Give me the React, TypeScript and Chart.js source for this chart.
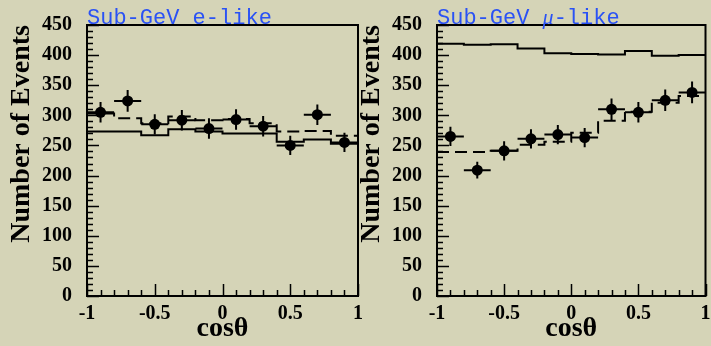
import React, { useEffect, useRef } from "react";
import { Chart, registerables } from "chart.js";

Chart.register(...registerables);

// ---- data ----
const BIN_EDGES = [-1, -0.8, -0.6, -0.4, -0.2, 0, 0.2, 0.4, 0.6, 0.8, 1];
const BIN_CENTERS = [-0.9, -0.7, -0.5, -0.3, -0.1, 0.1, 0.3, 0.5, 0.7, 0.9];
const HALF_BIN = 0.1;

const E_DATA = [305, 324, 285, 292, 278, 293, 282, 250, 301, 255];
const E_ERR = [17, 18, 17, 17, 17, 17, 17, 16, 17, 16];
const E_NO_OSC = [273, 273, 267, 277, 273, 270, 270, 256, 260, 253];
const E_OSC = [303, 295, 287, 298, 292, 294, 287, 273, 274, 266];

const MU_DATA = [265, 209, 241, 261, 268, 263, 310, 305, 325, 338];
const MU_ERR = [16, 14, 16, 16, 16, 16, 18, 17, 18, 18];
const MU_NO_OSC = [419, 417, 418, 411, 403, 402, 401, 407, 399, 400];
const MU_OSC = [239, 239, 241, 251, 256, 271, 291, 306, 321, 332];

const X_TICKS = [-1, -0.5, 0, 0.5, 1];
const X_TICK_LABELS = ["-1", "-0.5", "0", "0.5", "1"];
const Y_TICKS = [0, 50, 100, 150, 200, 250, 300, 350, 400, 450];
const Y_TICK_LABELS = ["0", "50", "100", "150", "200", "250", "300", "350", "400", "450"];

const X_TITLE = "cosθ";
const Y_TITLE = "Number of Events";
const E_TITLE = [
  { t: "Sub-GeV ", italic: false },
  { t: "e-like", italic: false },
];
const MU_TITLE = [
  { t: "Sub-GeV ", italic: false },
  { t: "μ", italic: true },
  { t: "-like", italic: false },
];

const SERIF = "'Liberation Serif', 'Times New Roman', serif";
const BG = "#d5d4b7";
const TITLE_BLUE = "#2a52f5";

type Seg = { t: string; italic: boolean };

function histPoints(vals: number[]) {
  return BIN_EDGES.map((x, i) => ({ x, y: vals[Math.min(i, vals.length - 1)] }));
}

function makeDecorPlugin(title: Seg[], err: number[]) {
  return {
    id: "decor",
    afterDatasetsDraw(chart: any) {
      const { ctx, scales } = chart;
      const xs = scales.x;
      const ys = scales.y;
      ctx.save();
      const pts = chart.data.datasets[0].data as { x: number; y: number }[];
      ctx.strokeStyle = "#000";
      ctx.lineWidth = 2;
      pts.forEach((p, i) => {
        const px = xs.getPixelForValue(p.x);
        const py = ys.getPixelForValue(p.y);
        const x0 = xs.getPixelForValue(p.x - HALF_BIN);
        const x1 = xs.getPixelForValue(p.x + HALF_BIN);
        const y0 = ys.getPixelForValue(p.y - err[i]);
        const y1 = ys.getPixelForValue(p.y + err[i]);
        ctx.beginPath();
        ctx.moveTo(x0, py);
        ctx.lineTo(x1, py);
        ctx.moveTo(px, y0);
        ctx.lineTo(px, y1);
        ctx.stroke();
      });
      ctx.restore();
    },
    afterDraw(chart: any) {
      const { ctx, chartArea, scales } = chart;
      const xs = scales.x;
      const ys = scales.y;
      const { left, right, top, bottom } = chartArea;
      ctx.save();
      ctx.strokeStyle = "#000";
      ctx.lineWidth = 1.5;
      ctx.beginPath();
      for (let v = 0; v <= 450; v += 10) {
        const y = Math.round(ys.getPixelForValue(v)) + 0.5;
        const len = v % 50 === 0 ? 12 : 6;
        ctx.moveTo(left, y);
        ctx.lineTo(left + len, y);
      }
      for (let k = -10; k <= 10; k++) {
        const x = Math.round(xs.getPixelForValue(k / 10)) + 0.5;
        const len = k % 5 === 0 ? 12 : 6;
        ctx.moveTo(x, bottom);
        ctx.lineTo(x, bottom - len);
      }
      ctx.stroke();
      ctx.lineWidth = 2;
      ctx.strokeRect(left, top, right - left, bottom - top);
      let tx = left;
      ctx.fillStyle = TITLE_BLUE;
      ctx.textBaseline = "alphabetic";
      ctx.textAlign = "left";
      title.forEach((s) => {
        ctx.font = s.italic ? `italic 22px ${SERIF}` : "22px 'Liberation Mono', monospace";
        ctx.fillText(s.t, tx, top - 1);
        tx += ctx.measureText(s.t).width;
      });
      ctx.restore();
    },
  };
}

function Panel(props: {
  left: number;
  width: number;
  title: Seg[];
  data: number[];
  err: number[];
  noOsc: number[];
  osc: number[];
}) {
  const ref = useRef<HTMLCanvasElement>(null);
  useEffect(() => {
    const { width, title, data, err, noOsc, osc } = props;
    const tickFont = { family: SERIF, size: 20, weight: "bold" as const };
    const titleFont = { family: SERIF, size: 28, weight: "bold" as const, lineHeight: 1.2 };
    const chart = new Chart(ref.current as HTMLCanvasElement, {
      type: "line",
      data: {
        datasets: [
          {
            type: "scatter",
            data: BIN_CENTERS.map((x, i) => ({ x, y: data[i] })),
            pointRadius: 5.5,
            pointHoverRadius: 5.5,
            backgroundColor: "#000",
            borderColor: "#000",
            borderWidth: 0,
            showLine: false,
          } as any,
          {
            type: "line",
            data: histPoints(noOsc),
            stepped: "before",
            borderColor: "#000",
            borderWidth: 2,
            pointRadius: 0,
            fill: false,
          } as any,
          {
            type: "line",
            data: histPoints(osc),
            stepped: "before",
            borderColor: "#000",
            borderWidth: 2,
            borderDash: [12, 6],
            pointRadius: 0,
            fill: false,
          } as any,
        ],
      },
      options: {
        responsive: false,
        animation: false,
        events: [],
        layout: { padding: { left: 0, top: 25, right: width - 358, bottom: 0 } },
        plugins: { legend: { display: false }, tooltip: { enabled: false } },
        scales: {
          x: {
            type: "linear",
            min: -1,
            max: 1,
            afterBuildTicks: (s: any) => {
              s.ticks = X_TICKS.map((v) => ({ value: v }));
            },
            afterFit: (s: any) => {
              s.height = 50;
              s.paddingLeft = 0;
              s.paddingRight = 0;
            },
            ticks: {
              autoSkip: false,
              maxRotation: 0,
              padding: 6,
              color: "#000",
              font: tickFont,
              callback: (v: any) => X_TICK_LABELS[X_TICKS.indexOf(Number(v))] ?? "",
            },
            grid: { display: false, drawTicks: false, tickLength: 0 },
            border: { display: false },
            title: {
              display: true,
              text: X_TITLE,
              color: "#000",
              font: titleFont,
              padding: { top: 0, bottom: 0 },
            },
          },
          y: {
            type: "linear",
            min: 0,
            max: 450,
            afterBuildTicks: (s: any) => {
              s.ticks = Y_TICKS.map((v) => ({ value: v }));
            },
            afterFit: (s: any) => {
              s.width = 87;
              s.paddingTop = 0;
              s.paddingBottom = 0;
            },
            ticks: {
              autoSkip: false,
              padding: 15,
              color: "#000",
              font: tickFont,
              callback: (v: any) => Y_TICK_LABELS[Y_TICKS.indexOf(Number(v))] ?? "",
            },
            grid: { display: false, drawTicks: false, tickLength: 0 },
            border: { display: false },
            title: {
              display: true,
              text: Y_TITLE,
              align: "end",
              color: "#000",
              font: titleFont,
              padding: { top: 5, bottom: 0 },
            },
          },
        },
      } as any,
      plugins: [makeDecorPlugin(title, err)],
    });
    return () => chart.destroy();
  }, []);
  return (
    <canvas
      ref={ref}
      width={props.width}
      height={346}
      style={{ position: "absolute", left: props.left, top: 0, width: props.width, height: 346 }}
    />
  );
}

export default function App() {
  useEffect(() => {
    document.body.style.margin = "0";
    document.body.style.background = BG;
  }, []);
  return (
    <div
      style={{
        position: "fixed",
        left: 0,
        top: 0,
        width: 711,
        height: 346,
        background: BG,
        overflow: "hidden",
      }}
    >
      <Panel left={0} width={364} title={E_TITLE} data={E_DATA} err={E_ERR} noOsc={E_NO_OSC} osc={E_OSC} />
      <Panel left={350} width={361} title={MU_TITLE} data={MU_DATA} err={MU_ERR} noOsc={MU_NO_OSC} osc={MU_OSC} />
    </div>
  );
}
